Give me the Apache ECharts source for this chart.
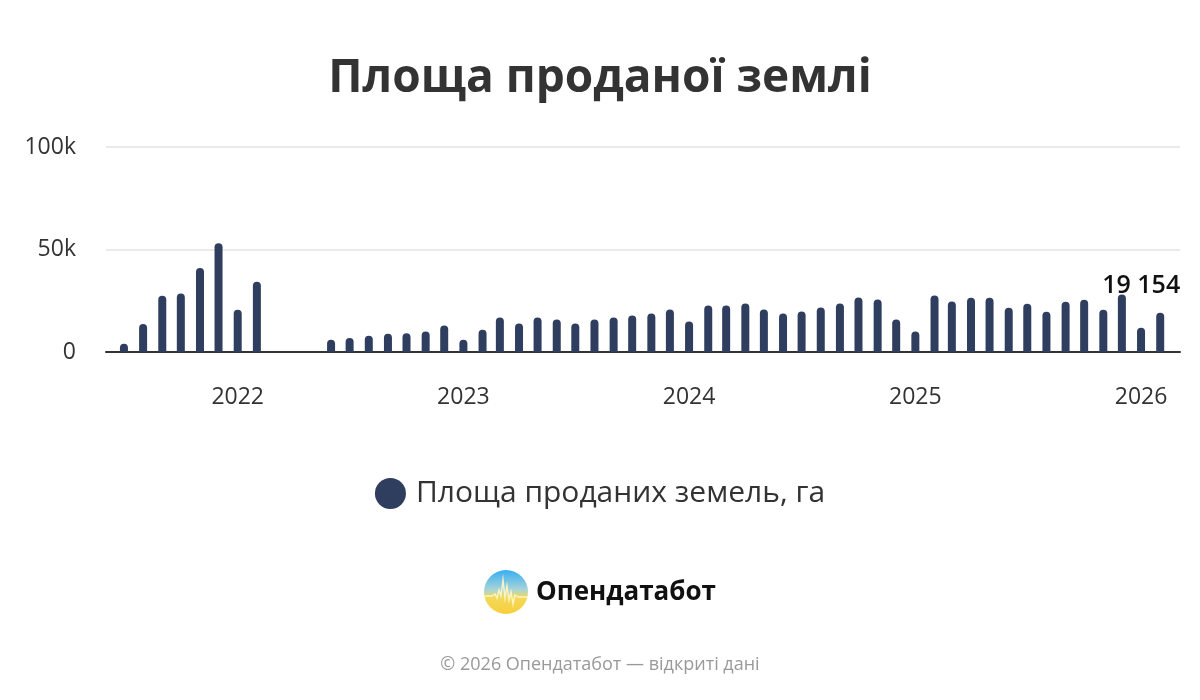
<!DOCTYPE html>
<html>
<head>
<meta charset="utf-8">
<script src="https://cdn.jsdelivr.net/npm/echarts@6/dist/echarts.min.js"></script>
<style>
html,body{margin:0;padding:0;background:#fff;}
#c{width:1200px;height:700px;}
</style>
</head>
<body>
<div id="c"></div>
<script>
const months = ['2021-07','2021-08','2021-09','2021-10','2021-11','2021-12','2022-01','2022-02',
'2022-06','2022-07','2022-08','2022-09','2022-10','2022-11','2022-12',
'2023-01','2023-02','2023-03','2023-04','2023-05','2023-06','2023-07','2023-08','2023-09','2023-10','2023-11','2023-12',
'2024-01','2024-02','2024-03','2024-04','2024-05','2024-06','2024-07','2024-08','2024-09','2024-10','2024-11','2024-12',
'2025-01','2025-02','2025-03','2025-04','2025-05','2025-06','2025-07','2025-08','2025-09','2025-10','2025-11','2025-12',
'2026-01','2026-02'];
const areaSold = [4000,13700,27500,28500,41000,53000,20600,34300,
6000,6800,7900,8900,9100,10000,12900,
6000,10900,16800,13900,16800,15800,13900,15800,16800,17800,18800,20700,
14900,22700,22700,23700,20700,18800,19800,21700,23700,26600,25600,15800,
10000,27600,24600,26500,26500,21600,23500,19600,24500,25500,20600,28000,
11800,19154];
const yearTicks = ['2022','2023','2024','2025','2026'];
const seriesName = 'Площа проданих земель, га';
const titleText = 'Площа проданої землі';
const brandText = 'Опендатабот';
const footerText = '© 2026 Опендатабот — відкриті дані';

const barColor = '#2f3e5f';
const font = '"Open Sans", "Noto Sans", sans-serif';

function fmtSpace(v){ return String(v).replace(/\B(?=(\d{3})+(?!\d))/g, ' '); }

const data = months.map((m, i) => {
  const item = { value: [m + '-01', areaSold[i]] };
  if (i === months.length - 1) {
    item.label = {
      show: true, position: 'top', offset: [-19, -9],
      formatter: p => fmtSpace(p.value[1]),
      color: '#111', fontSize: 25, fontWeight: 600, fontFamily: font
    };
  }
  return item;
});

const DAY = 24 * 3600 * 1000;
const chart = echarts.init(document.getElementById('c'));
chart.setOption({
  animation: false,
  title: {
    text: titleText, left: 'center', top: 51,
    textStyle: { fontSize: 46, fontWeight: 700, color: '#333', fontFamily: font }
  },
  legend: {
    top: 473, left: 'center', icon: 'circle', itemWidth: 31, itemHeight: 31, itemGap: 10,
    textStyle: { fontSize: 30, color: '#333', fontFamily: font, padding: [0,0,0,5] },
    data: [seriesName]
  },
  grid: { left: 106, right: 20, top: 147, bottom: 348, containLabel: false },
  xAxis: {
    type: 'time',
    min: new Date('2021-06-08T11:00:00').getTime(),
    max: new Date('2026-02-26T13:00:00').getTime(),
    minInterval: 360 * DAY,
    axisLine: { lineStyle: { color: '#333', width: 2 } },
    axisTick: { show: false },
    splitLine: { show: false },
    axisLabel: {
      formatter: v => {
        const d = new Date(v);
        const y = String(d.getFullYear());
        return (d.getMonth() === 0 && d.getDate() === 1 && yearTicks.indexOf(y) >= 0) ? y : '';
      },
      color: '#333', fontSize: 23, fontFamily: font, margin: 34,
      showMinLabel: false, showMaxLabel: false
    }
  },
  yAxis: {
    type: 'value', min: 0, max: 100000, interval: 50000,
    axisLabel: {
      formatter: v => v === 0 ? '0' : (v / 1000) + 'k',
      color: '#333', fontSize: 23, fontFamily: font, margin: 30, padding: [4, 0, 0, 0]
    },
    splitLine: { lineStyle: { color: '#e3e3e3', width: 1.5 } },
    axisLine: { show: false }, axisTick: { show: false }
  },
  series: [{
    name: seriesName, type: 'bar', data: data,
    barWidth: 8,
    itemStyle: { color: barColor, borderRadius: [4, 4, 0, 0] }
  }],
  graphic: [
    {
      type: 'circle', shape: { cx: 506, cy: 592, r: 22 },
      style: {
        fill: new echarts.graphic.LinearGradient(0, 0, 0, 1, [
          { offset: 0, color: '#36aef5' }, { offset: 0.45, color: '#a8d4d6' }, { offset: 0.62, color: '#f3d95a' }, { offset: 1, color: '#f7cf3c' }
        ])
      }
    },
    {
      type: 'polyline',
      shape: { points: [[485,596],[492,596],[495,594],[497,598],[499,590],[501,596],[503,580],[505,598],[507,586],[509,600],[511,592],[513,604],[515,595],[518,597],[528,597]] },
      style: { stroke: '#fff6c8', lineWidth: 1.5, fill: null, opacity: 0.9 }
    },
    {
      type: 'text', left: 536, top: 580,
      style: { text: brandText, fontSize: 26, fontWeight: 700, fill: '#111', fontFamily: font }
    },
    {
      type: 'text', left: 'center', top: 656,
      style: { text: footerText, fontSize: 18, fill: '#999', fontFamily: font }
    }
  ]
});
</script>
</body>
</html>
